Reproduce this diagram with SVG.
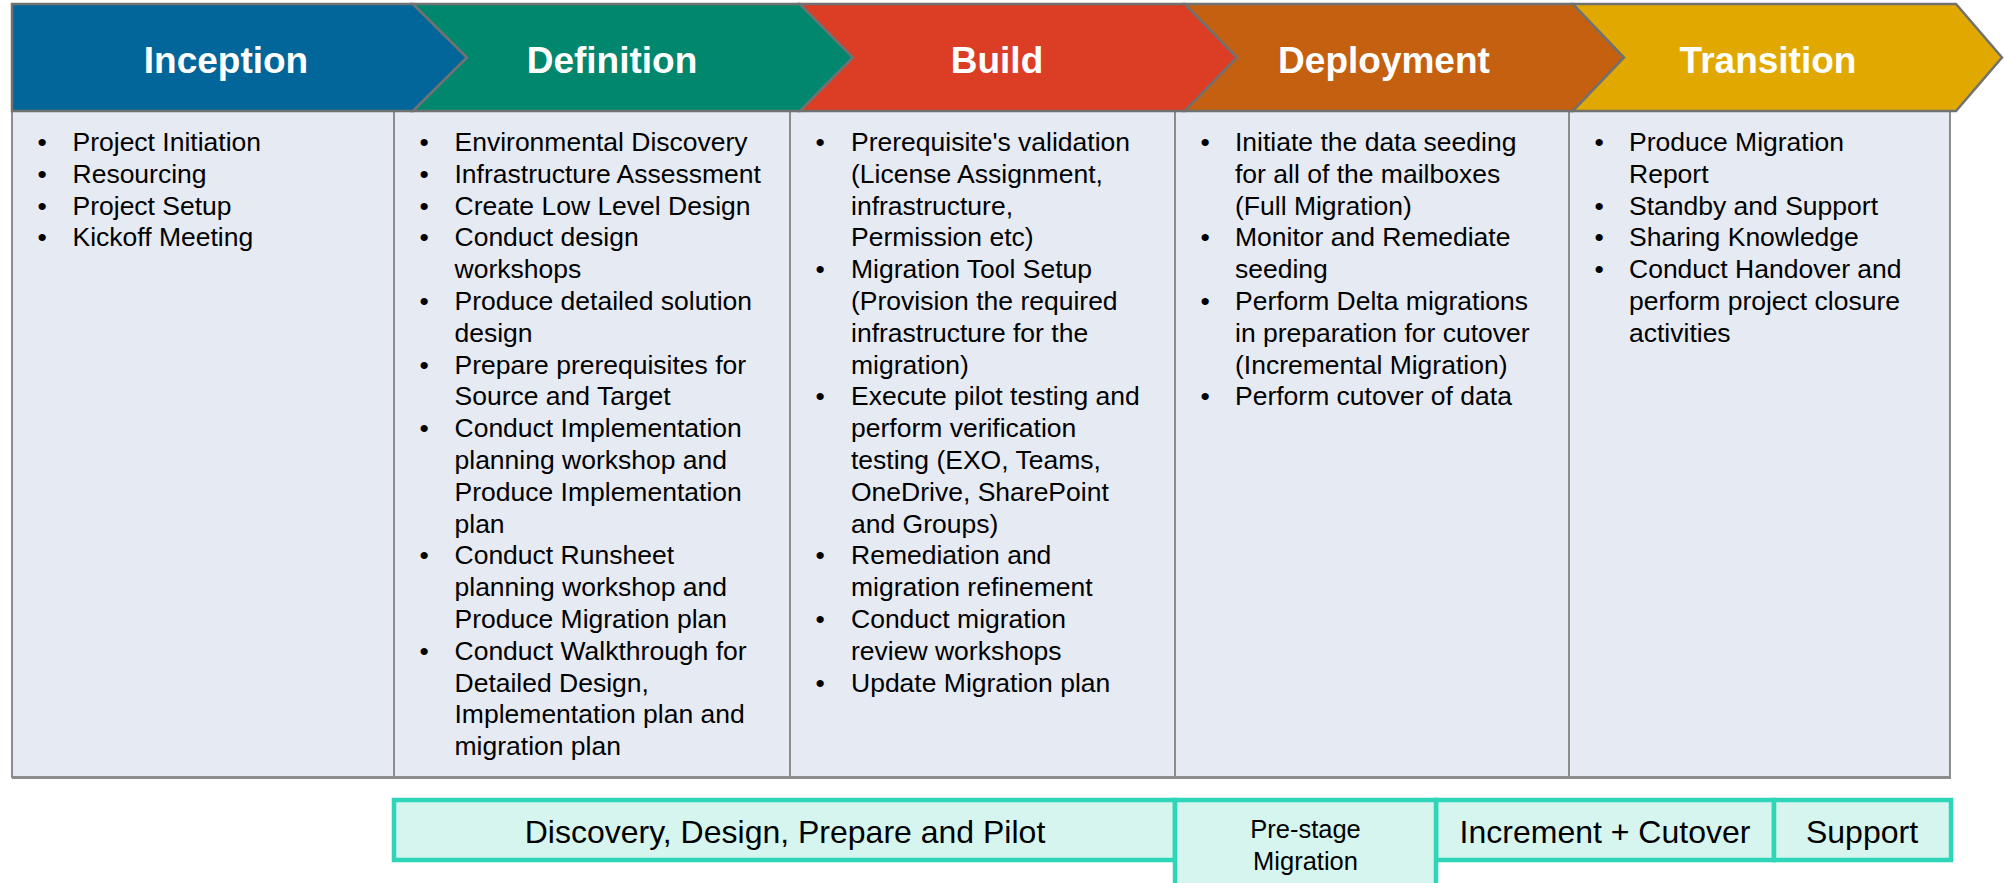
<svg xmlns="http://www.w3.org/2000/svg" width="2005" height="883" viewBox="0 0 2005 883">
<style>
.chev{stroke:#707272;stroke-width:2.5;stroke-linejoin:miter}
.hdr{font-family:"Liberation Sans",Arial,sans-serif;font-weight:bold;font-size:37px;fill:#fff;text-anchor:middle}
.col{fill:#E6EAF3;stroke:#8C8C8C;stroke-width:2}
.body{font-family:"Liberation Sans",Arial,sans-serif;font-size:26.5px;fill:#000}
.box{fill:#D5F5EE;stroke:#2ED5B8;stroke-width:4.5}
.btxt{font-family:"Liberation Sans",Arial,sans-serif;font-size:32px;fill:#000;text-anchor:middle}
.stxt{font-family:"Liberation Sans",Arial,sans-serif;font-size:25.5px;fill:#000;text-anchor:middle}
</style>
<rect width="2005" height="883" fill="#fff"/>
<g id="columns">
<g id="col-inception">
<rect class="col" x="12" y="111" width="382" height="666"/>
<text class="body"><tspan x="37.5" y="151">•</tspan><tspan x="72.5" y="151">Project Initiation</tspan><tspan x="37.5" y="182.8">•</tspan><tspan x="72.5" y="182.8">Resourcing</tspan><tspan x="37.5" y="214.6">•</tspan><tspan x="72.5" y="214.6">Project Setup</tspan><tspan x="37.5" y="246.4">•</tspan><tspan x="72.5" y="246.4">Kickoff Meeting</tspan></text>
</g>
<g id="col-definition">
<rect class="col" x="394" y="111" width="396" height="666"/>
<text class="body">
<tspan x="419.5" y="151">•</tspan><tspan x="454.5" y="151">Environmental Discovery</tspan>
<tspan x="419.5" y="182.8">•</tspan><tspan x="454.5" y="182.8">Infrastructure Assessment</tspan>
<tspan x="419.5" y="214.6">•</tspan><tspan x="454.5" y="214.6">Create Low Level Design</tspan>
<tspan x="419.5" y="246.4">•</tspan><tspan x="454.5" y="246.4">Conduct design</tspan>
<tspan x="454.5" y="278.2">workshops</tspan>
<tspan x="419.5" y="310">•</tspan><tspan x="454.5" y="310">Produce detailed solution</tspan>
<tspan x="454.5" y="341.8">design</tspan>
<tspan x="419.5" y="373.6">•</tspan><tspan x="454.5" y="373.6">Prepare prerequisites for</tspan>
<tspan x="454.5" y="405.4">Source and Target</tspan>
<tspan x="419.5" y="437.2">•</tspan><tspan x="454.5" y="437.2">Conduct Implementation</tspan>
<tspan x="454.5" y="469">planning workshop and</tspan>
<tspan x="454.5" y="500.8">Produce Implementation</tspan>
<tspan x="454.5" y="532.6">plan</tspan>
<tspan x="419.5" y="564.4">•</tspan><tspan x="454.5" y="564.4">Conduct Runsheet</tspan>
<tspan x="454.5" y="596.2">planning workshop and</tspan>
<tspan x="454.5" y="628">Produce Migration plan</tspan>
<tspan x="419.5" y="659.8">•</tspan><tspan x="454.5" y="659.8">Conduct Walkthrough for</tspan>
<tspan x="454.5" y="691.6">Detailed Design,</tspan>
<tspan x="454.5" y="723.4">Implementation plan and</tspan>
<tspan x="454.5" y="755.2">migration plan</tspan>
</text>
</g>
<g id="col-build">
<rect class="col" x="790" y="111" width="385" height="666"/>
<text class="body">
<tspan x="815.5" y="151">•</tspan><tspan x="851" y="151">Prerequisite's validation</tspan>
<tspan x="851" y="182.8">(License Assignment,</tspan>
<tspan x="851" y="214.6">infrastructure,</tspan>
<tspan x="851" y="246.4">Permission etc)</tspan>
<tspan x="815.5" y="278.2">•</tspan><tspan x="851" y="278.2">Migration Tool Setup</tspan>
<tspan x="851" y="310">(Provision the required</tspan>
<tspan x="851" y="341.8">infrastructure for the</tspan>
<tspan x="851" y="373.6">migration)</tspan>
<tspan x="815.5" y="405.4">•</tspan><tspan x="851" y="405.4">Execute pilot testing and</tspan>
<tspan x="851" y="437.2">perform verification</tspan>
<tspan x="851" y="469">testing (EXO, Teams,</tspan>
<tspan x="851" y="500.8">OneDrive, SharePoint</tspan>
<tspan x="851" y="532.6">and Groups)</tspan>
<tspan x="815.5" y="564.4">•</tspan><tspan x="851" y="564.4">Remediation and</tspan>
<tspan x="851" y="596.2">migration refinement</tspan>
<tspan x="815.5" y="628">•</tspan><tspan x="851" y="628">Conduct migration</tspan>
<tspan x="851" y="659.8">review workshops</tspan>
<tspan x="815.5" y="691.6">•</tspan><tspan x="851" y="691.6">Update Migration plan</tspan>
</text>
</g>
<g id="col-deployment">
<rect class="col" x="1175" y="111" width="394" height="666"/>
<text class="body">
<tspan x="1200.5" y="151">•</tspan><tspan x="1235" y="151">Initiate the data seeding</tspan>
<tspan x="1235" y="182.8">for all of the mailboxes</tspan>
<tspan x="1235" y="214.6">(Full Migration)</tspan>
<tspan x="1200.5" y="246.4">•</tspan><tspan x="1235" y="246.4">Monitor and Remediate</tspan>
<tspan x="1235" y="278.2">seeding</tspan>
<tspan x="1200.5" y="310">•</tspan><tspan x="1235" y="310">Perform Delta migrations</tspan>
<tspan x="1235" y="341.8">in preparation for cutover</tspan>
<tspan x="1235" y="373.6">(Incremental Migration)</tspan>
<tspan x="1200.5" y="405.4">•</tspan><tspan x="1235" y="405.4">Perform cutover of data</tspan>
</text>
</g>
<g id="col-transition">
<rect class="col" x="1569" y="111" width="381" height="666"/>
<text class="body">
<tspan x="1594.5" y="151">•</tspan><tspan x="1629" y="151">Produce Migration</tspan>
<tspan x="1629" y="182.8">Report</tspan>
<tspan x="1594.5" y="214.6">•</tspan><tspan x="1629" y="214.6">Standby and Support</tspan>
<tspan x="1594.5" y="246.4">•</tspan><tspan x="1629" y="246.4">Sharing Knowledge</tspan>
<tspan x="1594.5" y="278.2">•</tspan><tspan x="1629" y="278.2">Conduct Handover and</tspan>
<tspan x="1629" y="310">perform project closure</tspan>
<tspan x="1629" y="341.8">activities</tspan>
</text>
</g>
<line x1="12" y1="777.5" x2="1951" y2="777.5" stroke="#8C8C8C" stroke-width="3"/>
</g>
<g id="phases">
<g id="phase-inception">
<polygon class="chev" fill="#02669A" points="12,4 413,4 467,57.5 413,111 12,111"/>
<text class="hdr" x="226" y="72.5">Inception</text>
</g>
<g id="phase-definition">
<polygon class="chev" fill="#00876D" points="413,4 800,4 853,57.5 800,111 413,111 467,57.5"/>
<text class="hdr" x="612" y="72.5">Definition</text>
</g>
<g id="phase-build">
<polygon class="chev" fill="#DC3D25" points="800,4 1185,4 1237,57.5 1185,111 800,111 853,57.5"/>
<text class="hdr" x="997" y="72.5">Build</text>
</g>
<g id="phase-deployment">
<polygon class="chev" fill="#C46010" points="1185,4 1573,4 1624,57.5 1573,111 1185,111 1237,57.5"/>
<text class="hdr" x="1384" y="72.5">Deployment</text>
</g>
<g id="phase-transition">
<polygon class="chev" fill="#E1A900" points="1573,4 1956,4 2002,57.5 1956,111 1573,111 1624,57.5"/>
<text class="hdr" x="1768" y="72.5">Transition</text>
</g>
</g>
<g id="stages">
<g id="stage-discovery">
<rect class="box" x="394" y="800" width="781" height="60"/>
<text class="btxt" x="785" y="843">Discovery, Design, Prepare and Pilot</text>
</g>
<g id="stage-increment">
<rect class="box" x="1436" y="800" width="338" height="60"/>
<text class="btxt" x="1605" y="843">Increment + Cutover</text>
</g>
<g id="stage-support">
<rect class="box" x="1774" y="800" width="177" height="60"/>
<text class="btxt" x="1862" y="843">Support</text>
</g>
<g id="stage-prestage">
<rect class="box" x="1175" y="800" width="261" height="95"/>
<text class="stxt" x="1305.5" y="838">Pre-stage</text>
<text class="stxt" x="1305.5" y="870">Migration</text>
</g>
</g>
<g id="connectors"/>
</svg>
